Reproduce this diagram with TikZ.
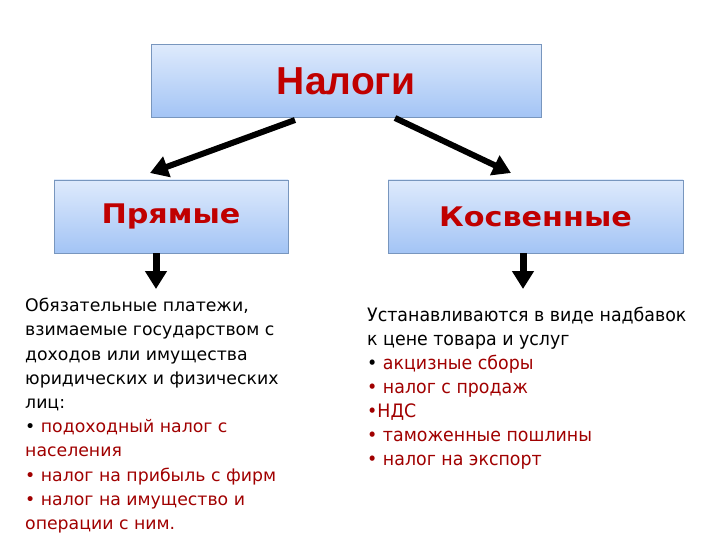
\documentclass[tikz,border=0pt]{standalone}
\usepackage{fontspec}
\setmainfont{DejaVu Sans}
\newfontfamily\titlefont{Liberation Sans}
\newfontfamily\subfont[FakeStretch=1.12]{DejaVu Sans}
\newfontfamily\leftfont{DejaVu Sans}
\newfontfamily\rightfont[FakeStretch=0.94]{DejaVu Sans}
\usetikzlibrary{arrows.meta}
\definecolor{boxtop}{RGB}{222,234,252}
\definecolor{boxbot}{RGB}{163,196,245}
\definecolor{boxline}{RGB}{120,150,190}
\definecolor{tred}{RGB}{192,0,0}
\definecolor{ired}{RGB}{160,0,0}
\tikzset{
  taxbox/.style={draw=boxline, line width=0.8pt, top color=boxtop, bottom color=boxbot, minimum height=73pt, inner sep=0pt},
  bigarrow/.style={line width=6pt, -{Triangle[length=18pt,width=21pt]}},
  subtitle/.style={font=\subfont\bfseries\fontsize{27pt}{30pt}\selectfont, text=tred},
  desc/.style={anchor=north west, align=left, inner sep=0pt}
}
\begin{document}
\begin{tikzpicture}[x=1pt,y=-1pt]
\useasboundingbox (0,0) rectangle (720,540);
\node[taxbox, minimum width=390pt] (nal) at (346,81) {\titlefont\bfseries\fontsize{39pt}{40pt}\selectfont\textcolor{tred}{Налоги}};
\node[taxbox, minimum width=234pt, subtitle] (pr) at (171,216.5) {Прямые};
\node[taxbox, minimum width=295pt, subtitle] (kos) at (535.5,216.5) {Косвенные};
\coordinate (a1s) at (295,120);
\coordinate (a1e) at (150,173);
\coordinate (a2s) at (395,118);
\coordinate (a2e) at (511,173);
\draw[bigarrow] (a1s) -- (a1e);
\draw[bigarrow] (a2s) -- (a2e);
\coordinate (d1e) at (156,289);
\coordinate (d2e) at (523,289);
\draw[bigarrow, line width=7pt] (pr.south -| d1e) -- (d1e);
\draw[bigarrow, line width=7pt] (kos.south -| d2e) -- (d2e);
\node[desc, font=\leftfont\fontsize{17.3pt}{24.2pt}\selectfont] (left) at (25,298) {Обязательные платежи,\\взимаемые государством с\\доходов или имущества\\юридических и физических\\лиц:\\• \textcolor{ired}{подоходный налог с}\\\textcolor{ired}{населения}\\\textcolor{ired}{• налог на прибыль с фирм}\\\textcolor{ired}{• налог на имущество и}\\\textcolor{ired}{операции с ним.}};
\node[desc, font=\rightfont\fontsize{18.5pt}{24pt}\selectfont] (right) at (367,306.5) {Устанавливаются в виде надбавок\\к цене товара и услуг\\• \textcolor{ired}{акцизные сборы}\\\textcolor{ired}{• налог с продаж}\\\textcolor{ired}{•НДС}\\\textcolor{ired}{• таможенные пошлины}\\\textcolor{ired}{• налог на экспорт}};
\end{tikzpicture}
\end{document}
